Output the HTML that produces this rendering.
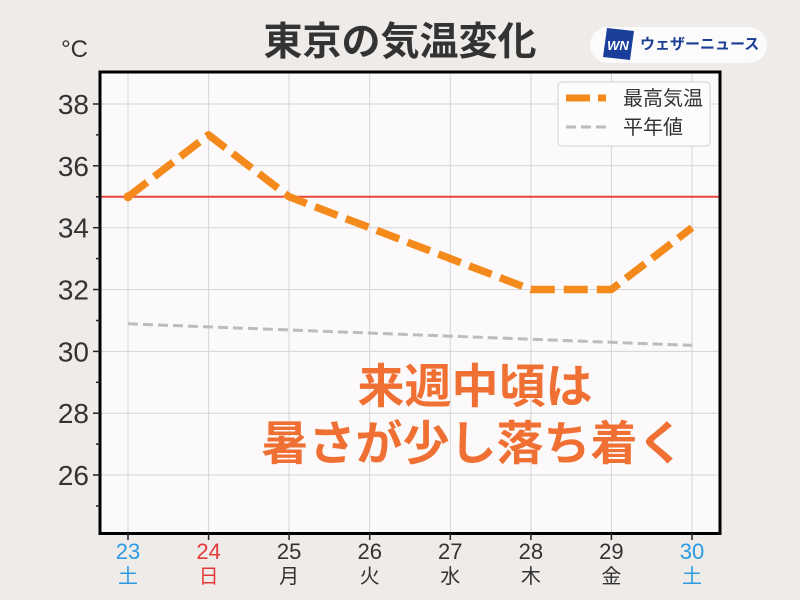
<!DOCTYPE html>
<html><head><meta charset="utf-8"><style>
html,body{margin:0;padding:0;background:#eeebe9;}
svg{display:block;}
text{font-family:"Liberation Sans","Noto Sans CJK JP",sans-serif;}
</style></head><body>
<svg width="800" height="600" viewBox="0 0 800 600" xmlns="http://www.w3.org/2000/svg">
<rect x="0" y="0" width="800" height="600" fill="#eeebe9"/>
<rect x="100" y="72" width="620" height="461.5" fill="#fbf9fa"/>
<g stroke="#d6d4d5" stroke-width="1">
<line x1="128" y1="72" x2="128" y2="533"/>
<line x1="208.6" y1="72" x2="208.6" y2="533"/>
<line x1="289.1" y1="72" x2="289.1" y2="533"/>
<line x1="369.7" y1="72" x2="369.7" y2="533"/>
<line x1="450.3" y1="72" x2="450.3" y2="533"/>
<line x1="530.9" y1="72" x2="530.9" y2="533"/>
<line x1="611.4" y1="72" x2="611.4" y2="533"/>
<line x1="692" y1="72" x2="692" y2="533"/>
<line x1="100" y1="104" x2="720" y2="104"/>
<line x1="100" y1="165.8" x2="720" y2="165.8"/>
<line x1="100" y1="227.7" x2="720" y2="227.7"/>
<line x1="100" y1="289.5" x2="720" y2="289.5"/>
<line x1="100" y1="351.4" x2="720" y2="351.4"/>
<line x1="100" y1="413.2" x2="720" y2="413.2"/>
<line x1="100" y1="475" x2="720" y2="475"/>
</g>
<line x1="100" y1="196.8" x2="720" y2="196.8" stroke="#e8463a" stroke-width="2"/>
<polyline points="128,323.8 692,345.4" fill="none" stroke="#bdbbbb" stroke-width="3" stroke-dasharray="10 5"/>
<polyline points="128,196.8 208.6,134.9 289.1,196.8 369.7,227.7 450.3,258.6 530.9,289.5 611.4,289.5 692,227.7" fill="none" stroke="#f58a1c" stroke-width="7.5" stroke-dasharray="24 9" stroke-linejoin="round"/>
<circle cx="128" cy="196.8" r="4.5" fill="#f58a1c"/>
<g fill="#f07033" font-weight="bold" font-size="47" text-anchor="middle">
<text x="475" y="403" style="font-family:'Noto Sans CJK JP',sans-serif">来週中頃は</text>
<text x="473" y="460" style="font-family:'Noto Sans CJK JP',sans-serif">暑さが少し落ち着く</text>
</g>
<rect x="558" y="82" width="152" height="64" rx="4" fill="#fdfcfc" stroke="#d2d0d0" stroke-width="1"/>
<line x1="566" y1="98" x2="606" y2="98" stroke="#f58a1c" stroke-width="7" stroke-dasharray="24 8"/>
<line x1="566" y1="127" x2="606" y2="127" stroke="#bdbbbb" stroke-width="3" stroke-dasharray="10 5"/>
<text x="623" y="105" font-size="20" fill="#333" style="font-family:'Noto Sans CJK JP',sans-serif">最高気温</text>
<text x="623" y="134" font-size="20" fill="#333" style="font-family:'Noto Sans CJK JP',sans-serif">平年値</text>
<rect x="100" y="72" width="620" height="461.5" fill="none" stroke="#000" stroke-width="3"/>
<g stroke="#222" stroke-width="1.5">
<line x1="93" y1="104" x2="100" y2="104"/>
<line x1="93" y1="165.8" x2="100" y2="165.8"/>
<line x1="93" y1="227.7" x2="100" y2="227.7"/>
<line x1="93" y1="289.5" x2="100" y2="289.5"/>
<line x1="93" y1="351.4" x2="100" y2="351.4"/>
<line x1="93" y1="413.2" x2="100" y2="413.2"/>
<line x1="93" y1="475" x2="100" y2="475"/>
<line x1="96" y1="134.9" x2="100" y2="134.9"/>
<line x1="96" y1="196.8" x2="100" y2="196.8"/>
<line x1="96" y1="258.6" x2="100" y2="258.6"/>
<line x1="96" y1="320.5" x2="100" y2="320.5"/>
<line x1="96" y1="382.3" x2="100" y2="382.3"/>
<line x1="96" y1="444.1" x2="100" y2="444.1"/>
<line x1="96" y1="506" x2="100" y2="506"/>
<line x1="128" y1="533" x2="128" y2="540"/>
<line x1="208.6" y1="533" x2="208.6" y2="540"/>
<line x1="289.1" y1="533" x2="289.1" y2="540"/>
<line x1="369.7" y1="533" x2="369.7" y2="540"/>
<line x1="450.3" y1="533" x2="450.3" y2="540"/>
<line x1="530.9" y1="533" x2="530.9" y2="540"/>
<line x1="611.4" y1="533" x2="611.4" y2="540"/>
<line x1="692" y1="533" x2="692" y2="540"/>
</g>
<g font-size="28" fill="#333" text-anchor="end">
<text x="89" y="114">38</text>
<text x="89" y="175.8">36</text>
<text x="89" y="237.7">34</text>
<text x="89" y="299.5">32</text>
<text x="89" y="361.4">30</text>
<text x="89" y="423.2">28</text>
<text x="89" y="485">26</text>
</g>
<text x="88" y="57" font-size="24" fill="#333" text-anchor="end">°C</text>
<g font-size="22" text-anchor="middle">
<text x="128" y="559" fill="#2d9be3">23</text>
<text x="208.6" y="559" fill="#e23a3a">24</text>
<text x="289.1" y="559" fill="#333">25</text>
<text x="369.7" y="559" fill="#333">26</text>
<text x="450.3" y="559" fill="#333">27</text>
<text x="530.9" y="559" fill="#333">28</text>
<text x="611.4" y="559" fill="#333">29</text>
<text x="692" y="559" fill="#2d9be3">30</text>
</g>
<g font-size="20" text-anchor="middle">
<text x="128" y="583" fill="#2d9be3" style="font-family:'Noto Sans CJK JP',sans-serif">土</text>
<text x="208.6" y="583" fill="#e23a3a" style="font-family:'Noto Sans CJK JP',sans-serif">日</text>
<text x="289.1" y="583" fill="#333" style="font-family:'Noto Sans CJK JP',sans-serif">月</text>
<text x="369.7" y="583" fill="#333" style="font-family:'Noto Sans CJK JP',sans-serif">火</text>
<text x="450.3" y="583" fill="#333" style="font-family:'Noto Sans CJK JP',sans-serif">水</text>
<text x="530.9" y="583" fill="#333" style="font-family:'Noto Sans CJK JP',sans-serif">木</text>
<text x="611.4" y="583" fill="#333" style="font-family:'Noto Sans CJK JP',sans-serif">金</text>
<text x="692" y="583" fill="#2d9be3" style="font-family:'Noto Sans CJK JP',sans-serif">土</text>
</g>
<text x="400" y="55" font-size="39" font-weight="bold" fill="#333" text-anchor="middle" style="font-family:'Noto Sans CJK JP',sans-serif">東京の気温変化</text>
<rect x="590" y="27" width="177" height="36" rx="18" fill="#fbfbfb"/>
<polygon points="607,28 634,31 630,60 603,57" fill="#1a3f9a"/>
<text x="618" y="50" font-size="13" font-weight="bold" font-style="italic" fill="#fff" text-anchor="middle">WN</text>
<text x="640" y="49" font-size="15" font-weight="bold" fill="#1b3d94" style="font-family:'Noto Sans CJK JP',sans-serif">ウェザーニュース</text>
</svg>
</body></html>
